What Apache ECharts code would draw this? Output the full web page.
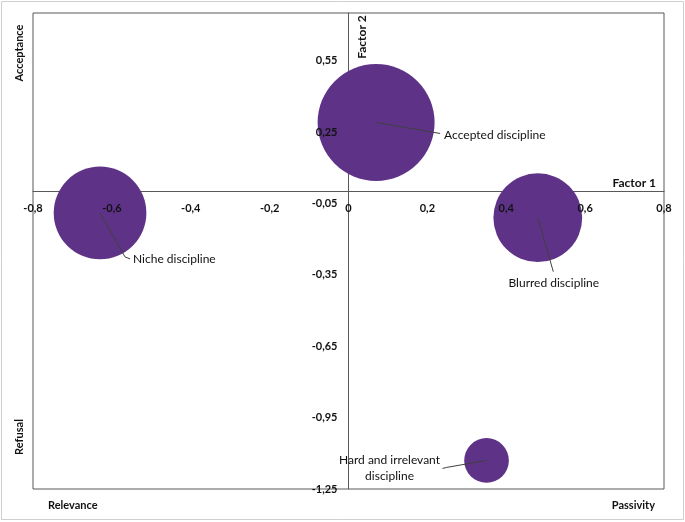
<!DOCTYPE html>
<html>
<head>
<meta charset="utf-8">
<script src="https://cdn.jsdelivr.net/npm/echarts@6/dist/echarts.min.js"></script>
<style>html,body{margin:0;padding:0;background:#fff}#c{width:685px;height:522px}</style>
</head>
<body>
<div id="c"></div>
<script>
// ---- data ----
const names = ['Accepted discipline', 'Niche discipline', 'Blurred discipline', 'Hard and irrelevant\ndiscipline'];
const factor1 = [0.07, -0.63, 0.48, 0.35];
const factor2 = [0.29, -0.09, -0.11, -1.13];
const weight = [13.7, 8.6, 7.9, 2.0];
const xTicks = [-0.8, -0.6, -0.4, -0.2, 0, 0.2, 0.4, 0.6, 0.8];
const yTicks = [-1.25, -0.95, -0.65, -0.35, -0.05, 0.25, 0.55];

// ---- label layout (pixel offsets from bubble centre) ----
const labelLayout = [
  {line: [[0,0],[64,11]], tx: 68, ty: 13, align: 'left'},
  {line: [[0,0],[25,44],[30,46]], tx: 33, ty: 46, align: 'left'},
  {line: [[0,0],[15.5,54]], tx: 16, ty: 65.5, align: 'center'},
  {line: [[0,0],[-40,7],[-44,8]], tx: -97, ty: 8, align: 'center'}
];

const FONT = 'Lato';
const purple = '#5e3387';
const fmt = v => (Math.abs(v) < 1e-9 ? '0' : String(Math.round(v*100)/100).replace('.', ','));

const chart = echarts.init(document.getElementById('c'), null, {renderer: 'canvas'});
const bubbleData = factor1.map((x, i) => [x, factor2[i], weight[i], names[i]]);

const labelStyle = {formatter: fmt, fontFamily: FONT, fontWeight: 'bold', fontSize: 11, color: '#111', margin: 11};
const xBase = {type: 'value', min: xTicks[0], max: xTicks[xTicks.length-1], interval: 0.2, position: 'bottom',
               axisTick: {show: false}, splitLine: {show: false}};
const yBase = {type: 'value', min: yTicks[0], max: 0.75, interval: 0.3, position: 'left',
               axisTick: {show: false}, splitLine: {show: false}};

chart.setOption({
  animation: false,
  backgroundColor: '#fff',
  grid: {left: 33, right: 21, top: 13, bottom: 33, containLabel: false, outerBoundsMode: 'none',
         show: true, borderColor: '#595959', borderWidth: 1, backgroundColor: 'transparent'},
  xAxis: [
    Object.assign({}, xBase, {z: 0, axisLine: {onZero: false, lineStyle: {color: '#595959', width: 1}}, axisLabel: {show: false}}),
    Object.assign({}, xBase, {z: 10, axisLine: {show: false, onZero: false}, axisLabel: labelStyle})
  ],
  yAxis: [
    Object.assign({}, yBase, {z: 0, axisLine: {onZero: false, lineStyle: {color: '#595959', width: 1}}, axisLabel: {show: false}}),
    Object.assign({}, yBase, {z: 10, axisLine: {show: false, onZero: false}, axisLabel: Object.assign({showMaxLabel: false}, labelStyle)})
  ],
  series: [
    {
      type: 'scatter',
      data: bubbleData,
      symbolSize: d => Math.sqrt(d[2]) * 31.6,
      itemStyle: {color: purple, opacity: 1},
      z: 2
    },
    {
      type: 'custom',
      data: bubbleData,
      z: 3,
      renderItem: (params, api) => {
        const i = params.dataIndex;
        const c = api.coord([api.value(0), api.value(1)]);
        const L = labelLayout[i];
        return {
          type: 'group',
          children: [
            {type: 'polyline', shape: {points: L.line.map(p => [c[0]+p[0], c[1]+p[1]])},
             style: {stroke: '#404040', lineWidth: 1, fill: null}},
            {type: 'text', x: c[0]+L.tx, y: c[1]+L.ty,
             style: {text: names[i], fontFamily: FONT, fontSize: 12, fill: '#111', align: L.align, verticalAlign: 'middle', lineHeight: 16}}
          ]
        };
      }
    }
  ],
  graphic: [
    {type: 'rect', shape: {x: 1.5, y: 1.5, width: 682, height: 518}, style: {fill: null, stroke: '#cfcfcf', lineWidth: 1}, z: -1},
    {type: 'text', x: 19, y: 53, rotation: Math.PI/2, style: {text: 'Acceptance', fontFamily: FONT, fontWeight: 'bold', fontSize: 11, fill: '#111', align: 'center', verticalAlign: 'middle'}},
    {type: 'text', x: 19, y: 437, rotation: Math.PI/2, style: {text: 'Refusal', fontFamily: FONT, fontWeight: 'bold', fontSize: 11, fill: '#111', align: 'center', verticalAlign: 'middle'}},
    {type: 'text', x: 48, y: 505, style: {text: 'Relevance', fontFamily: FONT, fontWeight: 'bold', fontSize: 11, fill: '#111', align: 'left', verticalAlign: 'middle'}},
    {type: 'text', x: 655, y: 505, style: {text: 'Passivity', fontFamily: FONT, fontWeight: 'bold', fontSize: 11, fill: '#111', align: 'right', verticalAlign: 'middle'}},
    {type: 'text', x: 656, y: 183, style: {text: 'Factor 1', fontFamily: FONT, fontWeight: 'bold', fontSize: 12, fill: '#111', align: 'right', verticalAlign: 'middle'}},
    {type: 'text', x: 362, y: 37, rotation: Math.PI/2, style: {text: 'Factor 2', fontFamily: FONT, fontWeight: 'bold', fontSize: 12, fill: '#111', align: 'center', verticalAlign: 'middle'}}
  ]
});

// Move both axes (line + labels) onto the zero crossing, computed from the library's own scales
const zero = chart.convertToPixel({gridIndex: 0}, [0, 0]);
const rect = chart.getModel().getComponent('grid', 0).coordinateSystem.getRect();
const offX = -(rect.y + rect.height - zero[1]);
const offY = -(zero[0] - rect.x);
chart.setOption({
  xAxis: [{offset: offX}, {offset: offX}],
  yAxis: [{offset: offY}, {offset: offY}]
});
</script>
</body>
</html>
